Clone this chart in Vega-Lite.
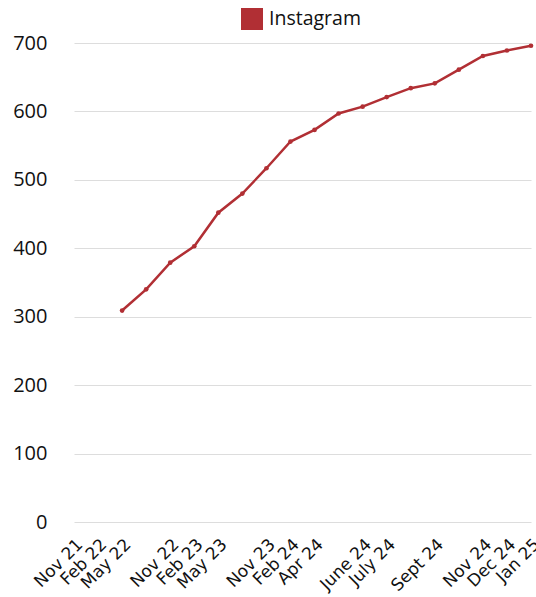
{
  "$schema": "https://vega.github.io/schema/vega-lite/v6.json",
  "width": 474,
  "height": 479,
  "autosize": {"type": "none"},
  "padding": {"left": 62, "top": 43, "right": 0, "bottom": 75},
  "background": "white",
  "data": {
    "values": [
      {"month": "Nov 21", "series": "Instagram", "followers": null},
      {"month": "Feb 22", "series": "Instagram", "followers": null},
      {"month": "May 22", "series": "Instagram", "followers": 309},
      {"month": "Aug 22", "series": "Instagram", "followers": 340},
      {"month": "Nov 22", "series": "Instagram", "followers": 379},
      {"month": "Feb 23", "series": "Instagram", "followers": 403},
      {"month": "May 23", "series": "Instagram", "followers": 452},
      {"month": "Aug 23", "series": "Instagram", "followers": 480},
      {"month": "Nov 23", "series": "Instagram", "followers": 517},
      {"month": "Feb 24", "series": "Instagram", "followers": 556},
      {"month": "Apr 24", "series": "Instagram", "followers": 573},
      {"month": "May 24", "series": "Instagram", "followers": 597},
      {"month": "June 24", "series": "Instagram", "followers": 607},
      {"month": "July 24", "series": "Instagram", "followers": 621},
      {"month": "Aug 24", "series": "Instagram", "followers": 634},
      {"month": "Sept 24", "series": "Instagram", "followers": 641},
      {"month": "Oct 24", "series": "Instagram", "followers": 661},
      {"month": "Nov 24", "series": "Instagram", "followers": 681},
      {"month": "Dec 24", "series": "Instagram", "followers": 689},
      {"month": "Jan 25", "series": "Instagram", "followers": 696}
    ]
  },
  "mark": {"type": "line", "strokeWidth": 2.5, "point": {"size": 22, "filled": true}},
  "encoding": {
    "x": {
      "field": "month",
      "type": "ordinal",
      "sort": null,
      "scale": {
        "type": "point",
        "padding": 0,
        "domain": ["Nov 21", "Feb 22", "May 22", "Aug 22", "Nov 22", "Feb 23", "May 23", "Aug 23", "Nov 23", "Feb 24", "Apr 24", "May 24", "June 24", "July 24", "Aug 24", "Sept 24", "Oct 24", "Nov 24", "Dec 24", "Jan 25"],
        "range": [12, 469]
      },
      "axis": {
        "title": null,
        "domain": false,
        "ticks": false,
        "grid": false,
        "labelAngle": -45,
        "labelAlign": "right",
        "labelBaseline": "top",
        "labelPadding": 14,
        "labelDx": 6,
        "labelDy": 5,
        "labelFont": "DejaVu Sans",
        "labelFontSize": 17,
        "labelColor": "#111111",
        "labelOverlap": false,
        "labelBound": false,
        "labelExpr": "indexof(['Aug 22','Aug 23','May 24','Aug 24','Oct 24'], datum.value) >= 0 ? '' : datum.value"
      }
    },
    "y": {
      "field": "followers",
      "type": "quantitative",
      "scale": {"domain": [0, 700], "nice": false},
      "axis": {
        "title": null,
        "domain": false,
        "ticks": false,
        "values": [0, 100, 200, 300, 400, 500, 600, 700],
        "labelPadding": 15,
        "labelFont": "Open Sans",
        "labelFontSize": 20,
        "labelColor": "#111111",
        "gridColor": "#dddddd",
        "gridWidth": 1
      }
    },
    "color": {
      "field": "series",
      "type": "nominal",
      "scale": {"range": ["#b12f34"]},
      "legend": {
        "title": null,
        "orient": "none",
        "legendX": 179,
        "legendY": -35,
        "symbolType": "square",
        "symbolSize": 484,
        "symbolFillColor": "#b12f34",
        "symbolStrokeWidth": 0,
        "labelFont": "Open Sans",
        "labelFontSize": 19.5,
        "labelColor": "#111111",
        "labelOffset": 6
      }
    }
  },
  "config": {"view": {"stroke": null}}
}
